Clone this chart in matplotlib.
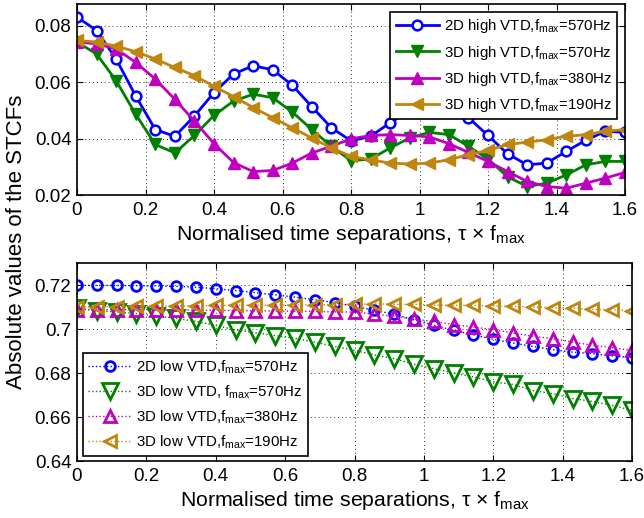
import matplotlib
matplotlib.use('Agg')
import matplotlib.pyplot as plt
import numpy as np

plt.rcParams['font.family'] = ['Liberation Sans', 'DejaVu Sans']
plt.rcParams['mathtext.fontset'] = 'custom'
plt.rcParams['mathtext.rm'] = 'Liberation Sans'
plt.rcParams['mathtext.it'] = 'Liberation Sans:italic'

# normalised time separation (29 samples, 0..1.6)
tau = np.linspace(0, 1.6, 29)

# high VTD (top panel)
hi_2d_570 = [0.0831, 0.0783, 0.0682, 0.0551, 0.0432, 0.0408, 0.0480, 0.0563, 0.0629, 0.0658,
             0.0644, 0.0589, 0.0513, 0.0438, 0.0392, 0.0408, 0.0456, 0.0498, 0.0525, 0.0520,
             0.0474, 0.0411, 0.0346, 0.0307, 0.0313, 0.0355, 0.0394, 0.0426, 0.0422]
hi_3d_570 = [0.0742, 0.0700, 0.0605, 0.0486, 0.0379, 0.0349, 0.0411, 0.0482, 0.0533, 0.0557,
             0.0545, 0.0494, 0.0432, 0.0372, 0.0322, 0.0327, 0.0367, 0.0402, 0.0422, 0.0414,
             0.0373, 0.0327, 0.0265, 0.0230, 0.0242, 0.0271, 0.0307, 0.0319, 0.0319]
hi_3d_380 = [0.0742, 0.0736, 0.0718, 0.0670, 0.0611, 0.0539, 0.0462, 0.0382, 0.0315, 0.0283,
             0.0287, 0.0313, 0.0349, 0.0373, 0.0399, 0.0411, 0.0414, 0.0411, 0.0406, 0.0382,
             0.0351, 0.0319, 0.0283, 0.0248, 0.0230, 0.0224, 0.0242, 0.0260, 0.0280]
hi_3d_190 = [0.0748, 0.0742, 0.0728, 0.0708, 0.0682, 0.0652, 0.0623, 0.0585, 0.0549, 0.0510,
             0.0474, 0.0438, 0.0402, 0.0367, 0.0337, 0.0325, 0.0313, 0.0310, 0.0313, 0.0325,
             0.0343, 0.0358, 0.0379, 0.0387, 0.0396, 0.0408, 0.0414, 0.0426, 0.0432]

# low VTD (bottom panel)
lo_2d_570 = [0.7198, 0.7198, 0.7198, 0.7197, 0.7196, 0.7194, 0.7190, 0.7183, 0.7175, 0.7165,
             0.7155, 0.7145, 0.7133, 0.7120, 0.7103, 0.7085, 0.7067, 0.7042, 0.7017, 0.6994,
             0.6974, 0.6953, 0.6936, 0.6921, 0.6906, 0.6895, 0.6888, 0.6878, 0.6870]
lo_3d_570 = [0.7095, 0.7083, 0.7077, 0.7070, 0.7060, 0.7048, 0.7035, 0.7016, 0.6996, 0.6983,
             0.6970, 0.6958, 0.6940, 0.6921, 0.6903, 0.6882, 0.6865, 0.6840, 0.6820, 0.6800,
             0.6782, 0.6760, 0.6748, 0.6720, 0.6706, 0.6684, 0.6671, 0.6653, 0.6630]
lo_3d_380 = [0.7088, 0.7088, 0.7088, 0.7088, 0.7087, 0.7087, 0.7086, 0.7085, 0.7084, 0.7083,
             0.7082, 0.7081, 0.7080, 0.7078, 0.7077, 0.7067, 0.7058, 0.7044, 0.7035, 0.7020,
             0.7009, 0.6997, 0.6982, 0.6967, 0.6956, 0.6941, 0.6926, 0.6915, 0.6903]
lo_3d_190 = [0.7100, 0.7101, 0.7102, 0.7103, 0.7104, 0.7105, 0.7106, 0.7107, 0.7108, 0.7108,
             0.7108, 0.7109, 0.7110, 0.7111, 0.7112, 0.7115, 0.7112, 0.7112, 0.7108, 0.7108,
             0.7108, 0.7105, 0.7103, 0.7100, 0.7097, 0.7095, 0.7089, 0.7088, 0.7082]

blue = (0, 0, 1)
green = (0, 0.5, 0)
magenta = (0.75, 0, 0.75)
gold = (0.75, 0.52, 0.05)

fig = plt.figure(figsize=(6.44, 5.18), dpi=100)
ax1 = fig.add_axes([77/644, 1-195/518, (625-77)/644, (195-4)/518])
ax2 = fig.add_axes([77/644, 1-461/518, (632-77)/644, (461-263)/518])

fm = r'f$_{\mathrm{max}}$'

# top
ax1.plot(tau, hi_2d_570, color=blue, lw=2, marker='o', ms=7, mfc='white', mew=1.8,
         label='2D high VTD,' + fm + '=570Hz')
ax1.plot(tau, hi_3d_570, color=green, lw=2, marker='v', ms=8, mfc=green,
         label='3D high VTD,' + fm + '=570Hz')
ax1.plot(tau, hi_3d_380, color=magenta, lw=2, marker='^', ms=8, mfc=magenta,
         label='3D high VTD,' + fm + '=380Hz')
ax1.plot(tau, hi_3d_190, color=gold, lw=2, marker='<', ms=8, mfc=gold,
         label='3D high VTD,' + fm + '=190Hz')
ax1.set_ylim(0.02, 0.0877)
ax1.set_yticks([0.02, 0.04, 0.06, 0.08])
ax1.set_yticklabels(['0.02', '0.04', '0.06', '0.08'])

# bottom
ax2.plot(tau, lo_2d_570, color=blue, lw=1, ls=':', marker='o', ms=7, mfc='none', mew=2,
         label='2D low VTD,' + fm + '=570Hz')
ax2.plot(tau, lo_3d_570, color=green, lw=1, ls=':', marker='v', ms=12, mfc='none', mew=2,
         label='3D low VTD, ' + fm + '=570Hz')
ax2.plot(tau, lo_3d_380, color=magenta, lw=1, ls=':', marker='^', ms=8, mfc='none', mew=2,
         label='3D low VTD,' + fm + '=380Hz')
ax2.plot(tau, lo_3d_190, color=gold, lw=1, ls=':', marker='<', ms=8, mfc='none', mew=2,
         label='3D low VTD,' + fm + '=190Hz')
ax2.set_ylim(0.64, 0.73)
ax2.set_yticks([0.64, 0.66, 0.68, 0.70, 0.72])
ax2.set_yticklabels(['0.64', '0.66', '0.68', '0.7', '0.72'])

xt = [0, 0.2, 0.4, 0.6, 0.8, 1.0, 1.2, 1.4, 1.6]
xtl = ['0', '0.2', '0.4', '0.6', '0.8', '1', '1.2', '1.4', '1.6']
for ax in (ax1, ax2):
    ax.set_xlim(0, 1.6)
    ax.set_xticks(xt)
    ax.set_xticklabels(xtl)
    ax.grid(True, ls=(0, (1, 3)), color='k', lw=0.7, alpha=0.8)
    ax.tick_params(direction='in', top=True, right=True, labelsize=13.5, length=4, pad=4)
    ax.tick_params(axis='x', pad=5)
    for s in ax.spines.values():
        s.set_linewidth(1.2)
    ax.set_xlabel('Normalised time separations, τ × ' + fm, fontsize=15.3, labelpad=3)

leg1 = ax1.legend(loc='upper right', bbox_to_anchor=(0.985, 0.958), borderaxespad=0,
                  fontsize=10.8, fancybox=False, edgecolor='k', framealpha=1,
                  handlelength=2.9, labelspacing=0.55, borderpad=0.35, handletextpad=0.3)
leg1.get_frame().set_linewidth(1.2)
leg2 = ax2.legend(loc='lower left', bbox_to_anchor=(0.011, 0.025), borderaxespad=0,
                  fontsize=10.8, fancybox=False, edgecolor='k', framealpha=1,
                  handlelength=2.9, labelspacing=0.5, borderpad=0.35, handletextpad=0.3)
leg2.get_frame().set_linewidth(1.2)

fig.text(0.026, 0.533, 'Absolute values of the STCFs', rotation=90, ha='center', va='center',
         fontsize=16)

fig.savefig('out.png', dpi=100)
